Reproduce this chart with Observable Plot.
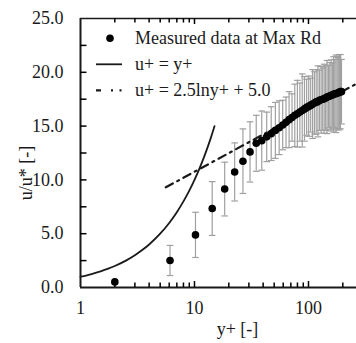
<!DOCTYPE html>
<html><head><meta charset="utf-8">
<script src="https://cdn.jsdelivr.net/npm/d3@7"></script>
<script src="https://cdn.jsdelivr.net/npm/@observablehq/plot@0.6"></script>
<style>body{margin:0;background:#fff}#chart{width:356px;height:343px}</style>
</head><body><div id="chart"></div>
<script>
// Measured data
const yPlus = [2.0, 6.1, 10.2, 14.3, 18.4, 22.5, 26.6, 30.7, 34.8, 38.9, 43.0, 47.1, 51.2, 55.3, 59.4, 63.5, 67.6, 71.7, 75.8, 79.9, 84.0, 88.1, 92.2, 96.3, 100.4, 104.5, 108.6, 112.7, 116.8, 120.9, 125.0, 129.1, 133.2, 137.3, 141.4, 145.5, 149.6, 153.7, 157.8, 161.9, 166.0, 170.1, 174.2, 178.3, 182.4, 186.5, 190.6, 194.7];
const uMeas = [0.52, 2.51, 4.89, 7.34, 9.15, 10.74, 11.74, 12.6, 13.4, 13.65, 14.0, 14.3, 14.6, 14.85, 15.1, 15.35, 15.6, 15.8, 16.0, 16.15, 16.3, 16.45, 16.6, 16.75, 16.85, 16.95, 17.05, 17.15, 17.25, 17.3, 17.4, 17.45, 17.5, 17.55, 17.6, 17.7, 17.75, 17.8, 17.85, 17.9, 17.95, 18.0, 18.0, 18.05, 18.1, 18.15, 18.2, 18.2];
const uErr = [0, 1.4, 2.1, 2.5, 2.5, 2.7, 3.0, 2.8, 2.6, 2.75, 2.3, 2.5, 2.6, 2.5, 2.3, 2.35, 2.6, 2.2, 2.9, 3.1, 2.7, 3.4, 3.0, 2.6, 2.8, 2.5, 3.2, 2.9, 3.0, 3.3, 2.8, 3.1, 2.9, 3.2, 3.0, 3.4, 2.9, 3.1, 3.3, 3.0, 3.5, 3.2, 3.6, 3.4, 3.3, 3.5, 3.45, 3.0];
// Viscous sublayer u+ = y+
const linY = [1, 1.25, 1.5, 1.75, 2, 2.5, 3, 3.5, 4, 5, 6, 7, 8, 9, 10, 11, 12, 13, 14, 15];
const linU = [1, 1.25, 1.5, 1.75, 2, 2.5, 3, 3.5, 4, 5, 6, 7, 8, 9, 10, 11, 12, 13, 14, 15];
// Log law u+ = 2.5 ln y+ + 5.0
const logY = [5.6, 10, 20, 50, 100, 200, 264];
const logU = [9.31, 10.76, 12.49, 14.78, 16.51, 18.25, 18.94];
// Axes
const xTickLabels = [1, 10, 100];
const xMajorTicks = [10, 100];
const xMinorTicks = [2, 3, 4, 5, 6, 7, 8, 9, 20, 30, 40, 50, 60, 70, 80, 90, 200];
const yTickLabels = [0, 5, 10, 15, 20, 25];
const yMinorTicks = [2.5, 5, 7.5, 10, 12.5, 15, 17.5, 20, 22.5];
const legendLabels = ["Measured data at Max Rd", "u+ = y+", "u+ = 2.5lny+ + 5.0"];
const xLabel = "y+ [-]";
const yLabel = "u/u* [-]";

const W = 356, H = 343, mL = 80, mR = 0, mT = 18, mB = 56;
const ink = "#1a1a1a", errC = "#a0a0a0";
const font = "'Liberation Serif', 'Times New Roman', serif";
const yMin = 0, yMax = 25, xMin = 1, xMax = 263.7;
// tick lengths expressed in data units (≈4.5px / 6px / 6.5px)
const minorLen = 0.42, majorLen = 0.56, yTickEnd = 1.14;

const meas = yPlus.map((x, i) => ({x, u: uMeas[i], lo: uMeas[i] - uErr[i], hi: uMeas[i] + uErr[i], e: uErr[i]}));
const withErr = meas.filter(d => d.e > 0);
const lin = linY.map((x, i) => ({x, u: linU[i]}));
const logl = logY.map((x, i) => ({x, u: logU[i]}));
const cap = {draw(ctx) { ctx.moveTo(-3.3, 0); ctx.lineTo(3.3, 0); }};
const tk = {stroke: "#000", strokeWidth: 1.5};

const plot = Plot.plot({
  width: W, height: H, marginLeft: mL, marginRight: mR, marginTop: mT, marginBottom: mB,
  style: {fontFamily: font, fontSize: "18px", color: ink, background: "#fff"},
  x: {type: "log", domain: [xMin, xMax]},
  y: {domain: [yMin, yMax]},
  marks: [
    Plot.ruleX(withErr, {x: "x", y1: "lo", y2: "hi", stroke: errC, strokeWidth: 1.2}),
    Plot.dot(withErr, {x: "x", y: "lo", symbol: cap, stroke: errC, strokeWidth: 1.2}),
    Plot.dot(withErr, {x: "x", y: "hi", symbol: cap, stroke: errC, strokeWidth: 1.2}),
    Plot.line(lin, {x: "x", y: "u", stroke: ink, strokeWidth: 1.8, curve: "monotone-x"}),
    Plot.line(logl, {x: "x", y: "u", stroke: ink, strokeWidth: 2.2, strokeDasharray: "8,5,2,5"}),
    Plot.dot(meas, {x: "x", y: "u", r: 3.8, fill: "#000", stroke: "none"}),
    Plot.ruleY([yMin], {stroke: ink, strokeWidth: 2}),
    Plot.ruleY([yMax], {stroke: ink, strokeWidth: 1.6}),
    Plot.ruleX([xMin], {stroke: ink, strokeWidth: 2}),
    Plot.axisX({ticks: xTickLabels, tickSize: 0, tickPadding: 14, tickFormat: d => String(d), label: null, fill: ink, fontFamily: font, fontSize: 18}),
    Plot.axisY({ticks: yTickLabels, tickSize: 0, tickPadding: 17, tickFormat: d => d.toFixed(1), label: null, fill: ink, fontFamily: font, fontSize: 18}),
    Plot.ruleX(xMinorTicks, {x: d => d, y1: yMin, y2: yMin + minorLen, ...tk}),
    Plot.ruleX(xMinorTicks, {x: d => d, y1: yMax - minorLen, y2: yMax, ...tk}),
    Plot.ruleX(xMajorTicks, {x: d => d, y1: yMin, y2: yMin + majorLen, ...tk}),
    Plot.ruleX(xMajorTicks, {x: d => d, y1: yMax - majorLen, y2: yMax, ...tk}),
    Plot.ruleY(yMinorTicks, {y: d => d, x1: xMin, x2: yTickEnd, ...tk})
  ]
});
document.getElementById("chart").appendChild(plot);

const svg = d3.select(plot);
svg.append("text").attr("x", 237.5).attr("y", 335).attr("text-anchor", "middle")
  .attr("font-family", font).attr("font-size", 18).attr("fill", ink).text(xLabel);
svg.append("text").attr("transform", "translate(31.5,173) rotate(-90)").attr("text-anchor", "middle")
  .attr("font-family", font).attr("font-size", 18).attr("fill", ink).text(yLabel);

const lg = svg.append("g").attr("font-family", font).attr("font-size", 18).attr("fill", ink).attr("text-anchor", "start");
const rowY = [38.3, 64.3, 90.3];
lg.append("circle").attr("cx", 110).attr("cy", rowY[0]).attr("r", 3.8).attr("fill", "#000");
lg.append("line").attr("x1", 96).attr("x2", 122).attr("y1", rowY[1]).attr("y2", rowY[1]).attr("stroke", ink).attr("stroke-width", 1.8);
lg.append("line").attr("x1", 96).attr("x2", 122).attr("y1", rowY[2]).attr("y2", rowY[2]).attr("stroke", ink).attr("stroke-width", 2.2).attr("stroke-dasharray", "5,10,2,6.5,2,10");
legendLabels.forEach((t, i) => {
  lg.append("text").attr("x", 135).attr("y", rowY[i] + 6).attr("text-anchor", "start").text(t);
});
</script>
</body></html>
